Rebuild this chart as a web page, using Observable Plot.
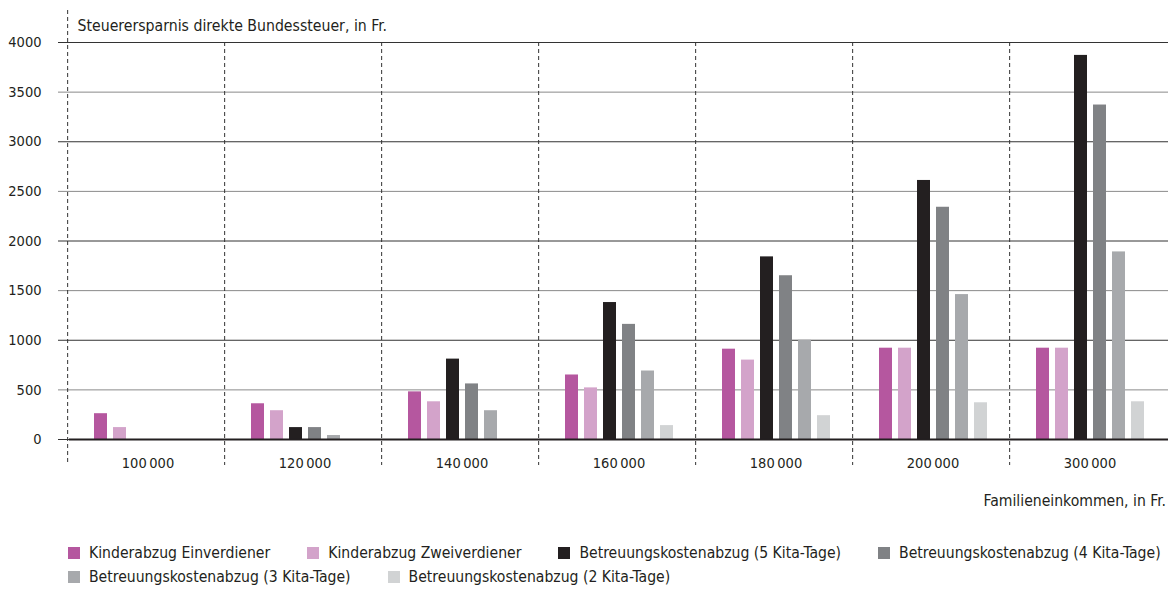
<!DOCTYPE html>
<html><head><meta charset="utf-8">
<script src="https://cdn.jsdelivr.net/npm/d3@7"></script>
<script src="https://cdn.jsdelivr.net/npm/@observablehq/plot@0.6"></script>
<style>
body{margin:0;background:#fff;font-family:"DejaVu Sans Condensed","DejaVu Sans",sans-serif;font-stretch:condensed;color:#231f20;overflow:hidden;}
#wrap{width:1170px;}
.xlabel{margin-top:10px;height:22px;line-height:22px;text-align:right;padding-right:4px;font-size:15.6px;}
.legend{margin-top:29px;margin-left:68px;width:1102px;display:flex;flex-wrap:wrap;column-gap:37px;font-size:15.6px;line-height:24px;}
.item{display:flex;align-items:center;white-space:nowrap;}
.sw{width:12px;height:12px;margin-right:9px;display:inline-block;}
</style></head><body><div id="wrap"><div id="chart"></div>
<div class="xlabel">Familieneinkommen, in Fr.</div>
<div class="legend" id="legend"></div></div>
<script>
const title = "Steuerersparnis direkte Bundessteuer, in Fr.";
const groups = ["100\u2009000", "120\u2009000", "140\u2009000", "160\u2009000", "180\u2009000", "200\u2009000", "300\u2009000"];
const series = ["Kinderabzug Einverdiener", "Kinderabzug Zweiverdiener", "Betreuungskostenabzug (5 Kita-Tage)", "Betreuungskostenabzug (4 Kita-Tage)", "Betreuungskostenabzug (3 Kita-Tage)", "Betreuungskostenabzug (2 Kita-Tage)"];
const colors = ["#b5579f", "#d3a3ca", "#231f20", "#808285", "#a7a9ac", "#d1d3d4"];
const kinderEin  = [260, 360, 480, 650, 910, 920, 920];
const kinderZwei = [120, 290, 380, 520, 800, 920, 920];
const kita5 = [0, 120, 810, 1380, 1840, 2610, 3870];
const kita4 = [0, 120, 560, 1160, 1650, 2340, 3370];
const kita3 = [0, 40, 290, 690, 1000, 1460, 1890];
const kita2 = [0, 0, 0, 140, 240, 370, 380];
const majorTicks = [0, 1000, 2000, 3000, 4000];
const minorTicks = [500, 1500, 2500, 3500];

const valuesBySeries = [kinderEin, kinderZwei, kita5, kita4, kita3, kita2];
const data = [];
groups.forEach((g, gi) => series.forEach((s, si) => data.push({group: g, series: s, value: valuesBySeries[si][gi]})));

const W = 1170, ML = 66, MR = 0;
const fw = (W - ML - MR) / groups.length;
const font = "'DejaVu Sans Condensed','DejaVu Sans',sans-serif";

const chart = Plot.plot({
  width: W, height: 480,
  marginLeft: ML, marginRight: MR, marginTop: 42, marginBottom: 41,
  style: {fontFamily: font, fontSize: "15px", color: "#231f20", background: "#fff", overflow: "visible"},
  fx: {domain: groups, paddingInner: 0, paddingOuter: 0, label: null},
  x: {domain: series, paddingInner: 0.34, paddingOuter: 1.15, axis: null},
  y: {domain: [0, 4000], label: null, axis: null},
  color: {domain: series, range: colors},
  marks: [
    Plot.ruleY(minorTicks, {stroke: "#8a8a8a", strokeWidth: 1}),
    Plot.ruleY(majorTicks.slice(1), {stroke: "#333", strokeWidth: 1}),
    Plot.axisY({ticks: majorTicks, tickSize: 11, tickPadding: 17, tickFormat: "d", stroke: "#333", fill: "#231f20", label: null, fontSize: 14.5}),
    Plot.axisY({ticks: minorTicks, tickSize: 11, tickPadding: 17, tickFormat: "d", stroke: "#8a8a8a", fill: "#231f20", label: null, fontSize: 14.5}),
    Plot.barY(data, {fx: "group", x: "series", y: "value", fill: "series"}),
    Plot.ruleY([0], {stroke: "#231f20", strokeWidth: 2}),
    Plot.ruleX(groups.slice(0, 1), {fx: d => d, x: null, dx: -fw / 2 - 1.5, insetTop: -32, insetBottom: -26, stroke: "#333", strokeDasharray: "4,3"}),
    Plot.ruleX(groups.slice(1), {fx: d => d, x: null, dx: -fw / 2 - 1.5, insetBottom: -26, stroke: "#333", strokeDasharray: "4,3"}),
    Plot.axisFx({anchor: "bottom", tickSize: 0, tickPadding: 18, label: null, fontSize: 14.5, fill: "#231f20"}),
    Plot.text([title], {fx: () => groups[0], frameAnchor: "top-left", dx: 8, dy: -23, textAnchor: "start", fontSize: 15.7, fill: "#231f20"})
  ]
});
document.getElementById("chart").appendChild(chart);

const legend = document.getElementById("legend");
series.forEach((s, i) => {
  const it = document.createElement("div");
  it.className = "item";
  const sw = document.createElement("span");
  sw.className = "sw";
  sw.style.background = colors[i];
  it.appendChild(sw);
  it.appendChild(document.createTextNode(s));
  legend.appendChild(it);
});
</script></body></html>
